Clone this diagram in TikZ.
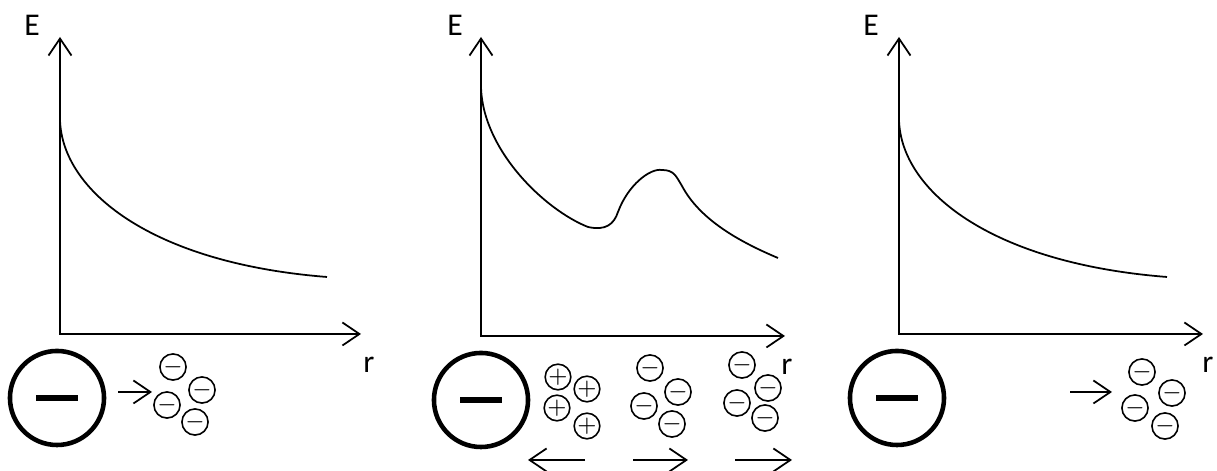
\documentclass[tikz,border=0pt]{standalone}
\usepackage{fontspec}
\setmainfont{Carlito}
\usetikzlibrary{arrows.meta}

\begin{document}
\begin{tikzpicture}[
    x=0.01cm, y=-0.01cm,
    line width=0.5pt,
    barb/.style={-{Straight Barb[length=1.7mm,width=2.3mm]}},
    axes/.style={{Straight Barb[length=1.7mm,width=2.3mm]}-{Straight Barb[length=1.7mm,width=2.3mm]}},
    lbl/.style={font=\fontsize{9}{11}\selectfont, inner sep=0pt},
    charge/.style={circle, draw, line width=1.3pt, minimum size=9.4mm, inner sep=0pt},
    ion/.style={circle, draw, line width=0.45pt, minimum size=2.55mm, inner sep=0pt, font=\fontsize{6}{7}\selectfont}
]
\useasboundingbox (0,0) rectangle (1217,471);

% left panel
\coordinate (o1) at (60,334);
\coordinate (y1) at (60,37);
\coordinate (x1) at (361,334);
\node[lbl] (E1) at (32,25) {E};
\node[lbl] (r1) at (369,365) {r};
\draw[axes] (y1) -- (o1) -- (x1);
\draw (60,120) .. controls (62,190) and (150,263) .. (327,277);

\node[charge] (c1) at (57,398) {\rule{4.1mm}{0.6mm}};
\node[ion] (m11) at (173,367) {$-$};
\node[ion] (m12) at (202,390) {$-$};
\node[ion] (m13) at (167,405) {$-$};
\node[ion] (m14) at (195,422) {$-$};
\coordinate (p1s) at (118,392);
\coordinate (p1e) at (152,392);
\draw[barb] (p1s) -- (p1e);

% middle panel
\coordinate (o2) at (481,336);
\coordinate (y2) at (481,37);
\coordinate (x2) at (785,336);
\node[lbl] (E2) at (455,25) {E};
\node[lbl] (r2) at (787,367) {r};
\draw[axes] (y2) -- (o2) -- (x2);
\draw (481,86) .. controls (482,150) and (545,210) .. (588,227)
    .. controls (606,231) and (614,224) .. (618,212)
    .. controls (628,185) and (650,168) .. (662,170)
    .. controls (674,170) and (676,176) .. (682,186)
    .. controls (700,220) and (740,242) .. (778,258);

\node[charge] (c2) at (481,400) {\rule{4.1mm}{0.6mm}};
\node[ion] (q21) at (558,377) {$+$};
\node[ion] (q22) at (587,389) {$+$};
\node[ion] (q23) at (557,408) {$+$};
\node[ion] (q24) at (587,426) {$+$};
\node[ion] (m21) at (650,368) {$-$};
\node[ion] (m22) at (678,392) {$-$};
\node[ion] (m23) at (644,406) {$-$};
\node[ion] (m24) at (672,424) {$-$};
\node[ion] (n21) at (742,365) {$-$};
\node[ion] (n22) at (768,388) {$-$};
\node[ion] (n23) at (737,403) {$-$};
\node[ion] (n24) at (765,418) {$-$};
\coordinate (p2s) at (585,460);
\coordinate (p2e) at (528,460);
\coordinate (p3s) at (633,460);
\coordinate (p3e) at (688,460);
\coordinate (p4s) at (735,460);
\coordinate (p4e) at (792,460);
\draw[barb] (p2s) -- (p2e);
\draw[barb] (p3s) -- (p3e);
\draw[barb] (p4s) -- (p4e);

% right panel
\coordinate (o3) at (899,334);
\coordinate (y3) at (899,37);
\coordinate (x3) at (1203,334);
\node[lbl] (E3) at (871,25) {E};
\node[lbl] (r3) at (1208,365) {r};
\draw[axes] (y3) -- (o3) -- (x3);
\draw (899,120) .. controls (901,190) and (989,263) .. (1167,277);

\node[charge] (c3) at (897,398) {\rule{4.1mm}{0.6mm}};
\node[ion] (m31) at (1142,372) {$-$};
\node[ion] (m32) at (1172,393) {$-$};
\node[ion] (m33) at (1135,408) {$-$};
\node[ion] (m34) at (1165,426) {$-$};
\coordinate (p5s) at (1070,392);
\coordinate (p5e) at (1112,392);
\draw[barb] (p5s) -- (p5e);
\end{tikzpicture}
\end{document}
